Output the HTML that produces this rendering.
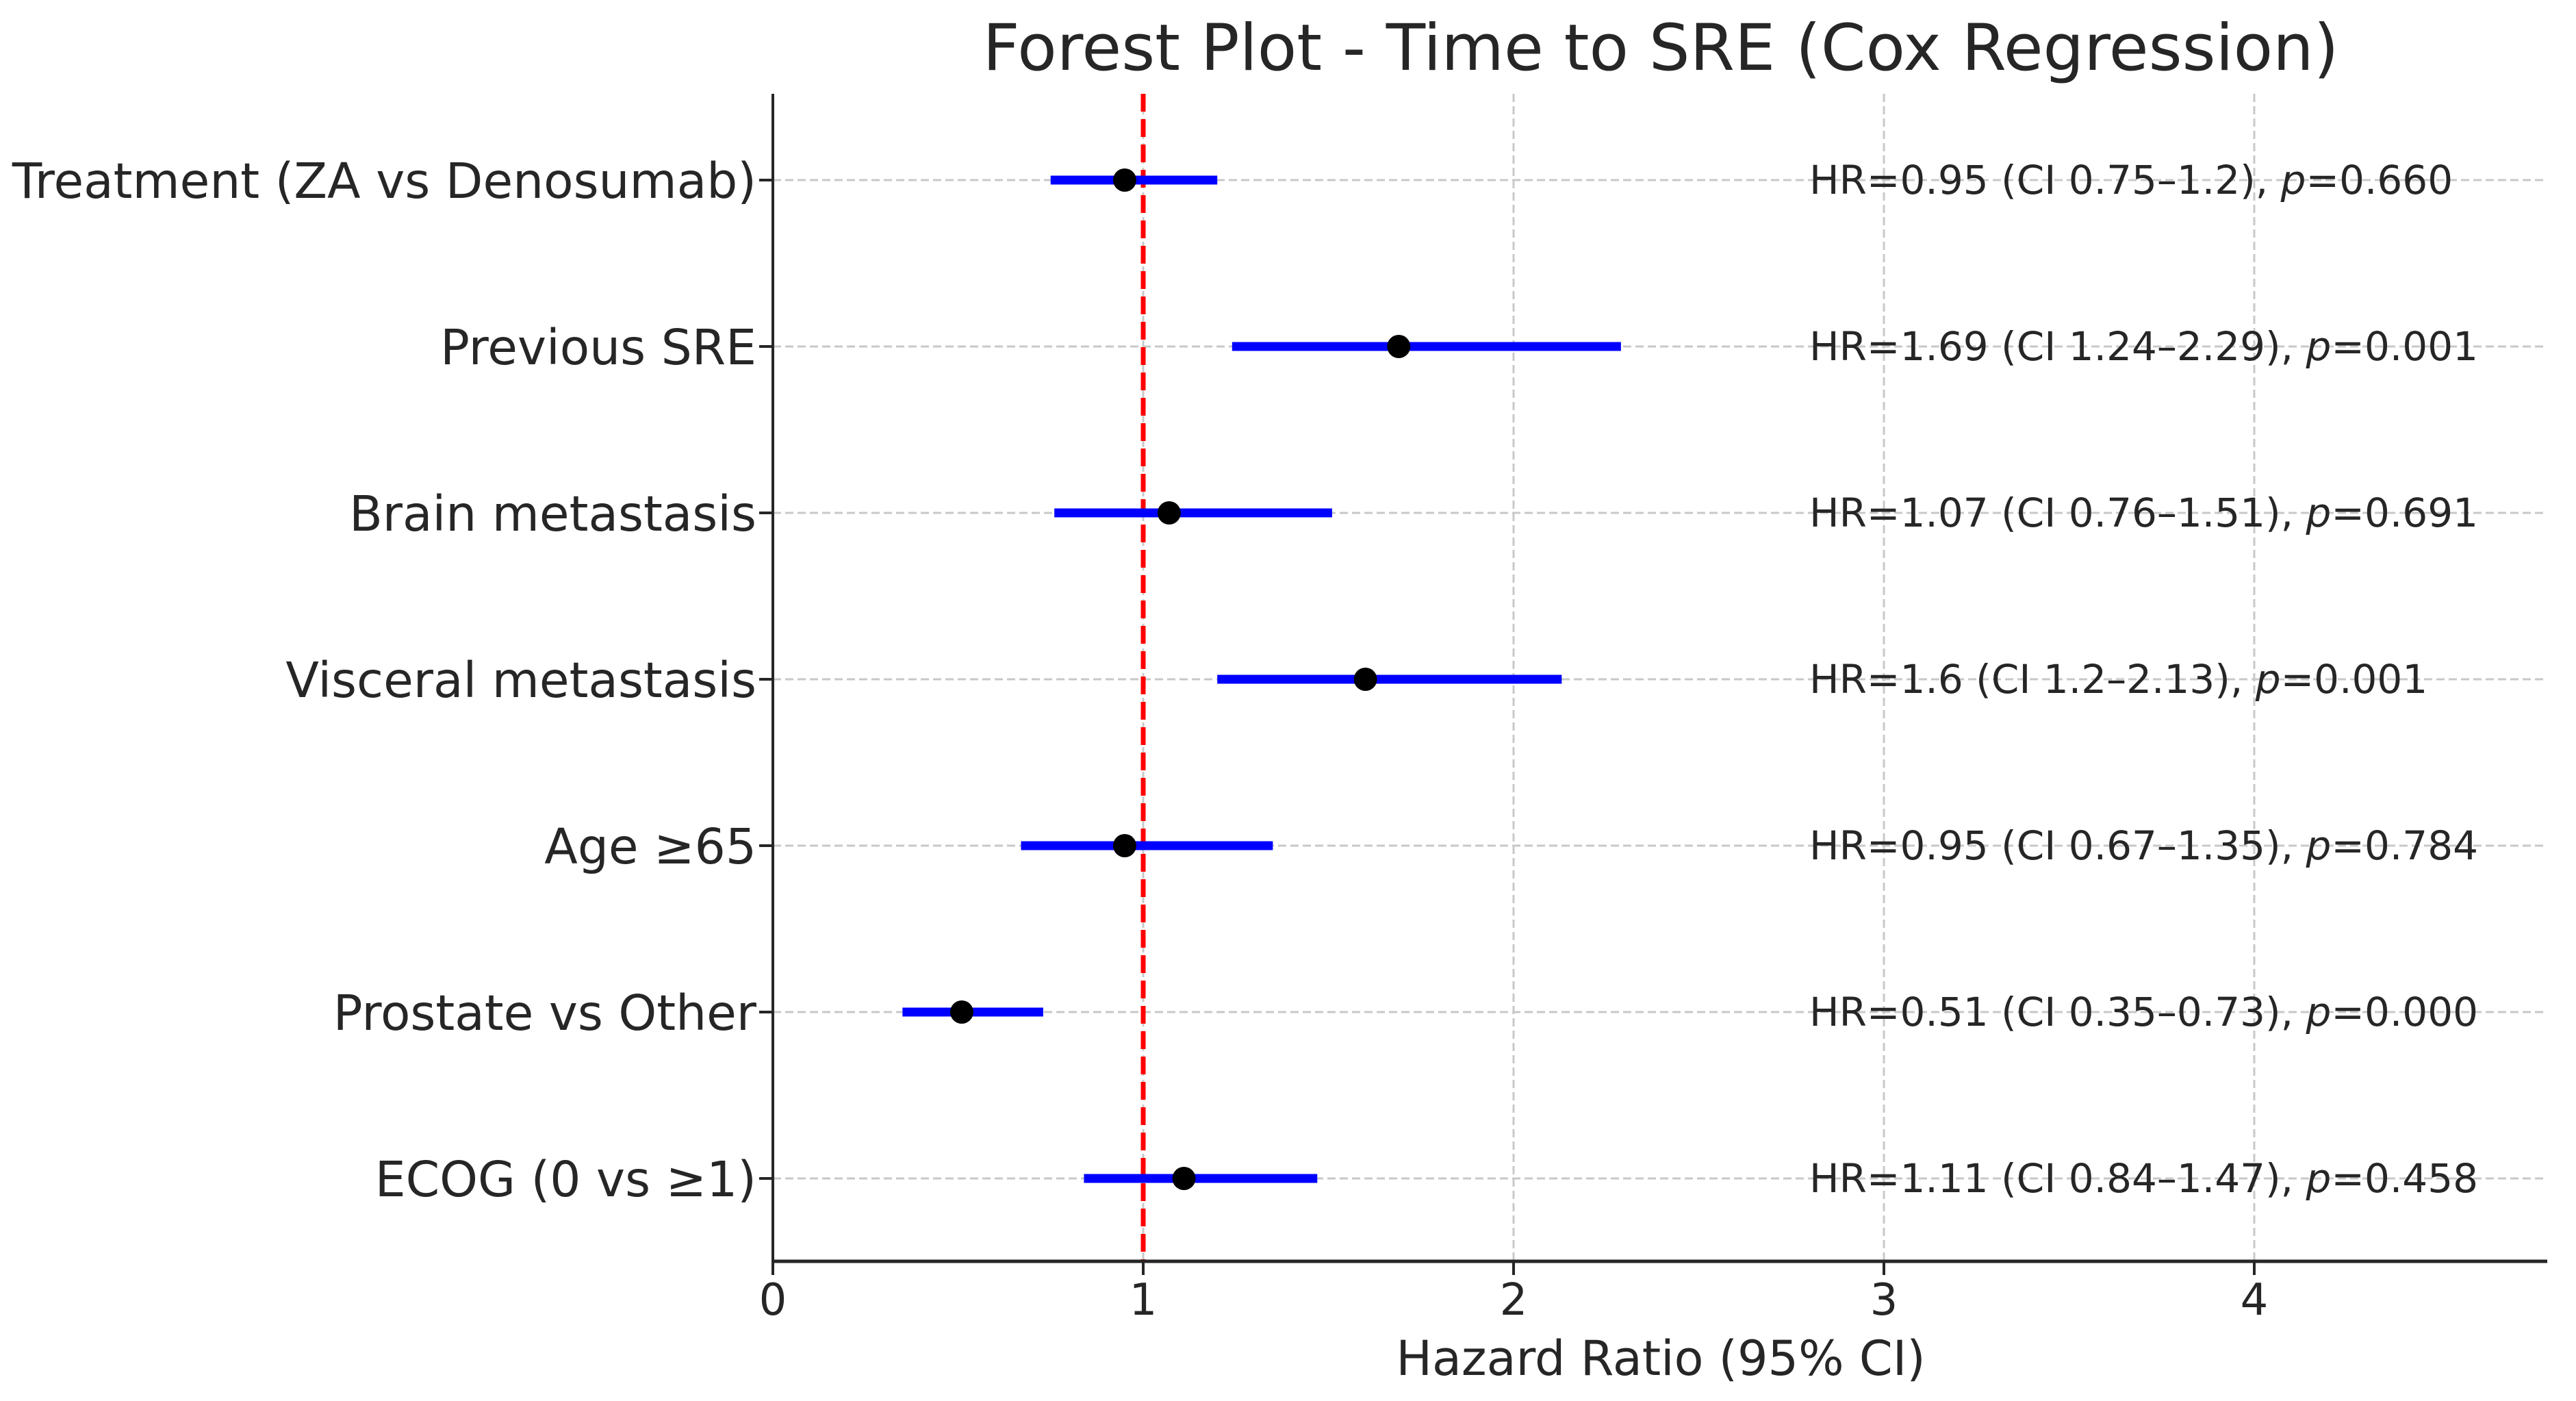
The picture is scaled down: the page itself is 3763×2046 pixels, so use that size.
<!DOCTYPE html>
<html><head><meta charset="utf-8"><style>
html,body{margin:0;padding:0;background:#fff;}
svg{display:block;font-family:"DejaVu Sans","Liberation Sans",sans-serif;}
</style></head><body>
<svg id="chart" width="3763" height="2046" viewBox="0 0 3763 2046" xmlns="http://www.w3.org/2000/svg">
<rect width="3763" height="2046" fill="#fff"/>
<text x="2426" y="102" font-size="94" text-anchor="middle" fill="#262626">Forest Plot - Time to SRE (Cox Regression)</text>
<g id="grid"></g><g id="marks"></g><g id="axes"></g>
<text x="2426" y="2008" font-size="70" text-anchor="middle" fill="#262626">Hazard Ratio (95% CI)</text>
</svg>
<script>
const labels=["Treatment (ZA vs Denosumab)","Previous SRE","Brain metastasis","Visceral metastasis","Age ≥65","Prostate vs Other","ECOG (0 vs ≥1)"];
const hr=[0.95,1.69,1.07,1.6,0.95,0.51,1.11];
const lo=[0.75,1.24,0.76,1.2,0.67,0.35,0.84];
const hi=[1.2,2.29,1.51,2.13,1.35,0.73,1.47];
const pvals=["0.660","0.001","0.691","0.001","0.784","0.000","0.458"];
const xticks=[0,1,2,3,4];
const NS="http://www.w3.org/2000/svg";
const X0=1129,PXU=541,Y0=263,DY=243,TOP=137,BOT=1842,RIGHT=3721;
const xs=v=>X0+v*PXU, ys=i=>Y0+i*DY;
function mk(tag,attrs,parent){const e=document.createElementNS(NS,tag);for(const k in attrs)e.setAttribute(k,attrs[k]);parent.appendChild(e);return e;}
const grid=document.getElementById('grid'),marks=document.getElementById('marks'),axes=document.getElementById('axes');
xticks.forEach(t=>{
 const g=mk('line',{x1:xs(t),x2:xs(t),y1:TOP,y2:BOT,stroke:'#c8c8c8','stroke-width':3,'stroke-dasharray':'12 6'},grid);
 
 
 const tk=mk('line',{x1:xs(t),x2:xs(t),y1:BOT,y2:BOT+20,stroke:'#262626','stroke-width':4},axes);
 
 
 const tl=mk('text',{x:xs(t),y:BOT+78,'font-size':64,'text-anchor':'middle',fill:'#262626'},axes);
 tl.textContent=t;
 
 
});
labels.forEach((lab,i)=>{
 const y=ys(i);
 const g=mk('line',{x1:X0,x2:RIGHT,y1:y,y2:y,stroke:'#c8c8c8','stroke-width':3,'stroke-dasharray':'12 6'},grid);
 
 
 const tk=mk('line',{x1:X0-20,x2:X0,y1:y,y2:y,stroke:'#262626','stroke-width':4},axes);
 
 
 const tl=mk('text',{x:X0-24,y:y+26,'font-size':71,'text-anchor':'end',fill:'#262626'},axes);
 tl.textContent=lab;
 
 
});
const ref=mk('line',{x1:xs(1),x2:xs(1),y1:TOP,y2:BOT,stroke:'#ff0000','stroke-width':7,'stroke-dasharray':'26 11'},marks);


labels.forEach((lab,i)=>{
 const y=ys(i);
 const ci=mk('line',{x1:xs(lo[i]),x2:xs(hi[i]),y1:y,y2:y,stroke:'#0000ff','stroke-width':13},marks);
 
 
 const pt=mk('circle',{cx:xs(hr[i]),cy:y,r:17,fill:'#000'},marks);
 
 
 const t=mk('text',{x:2643,y:y+20,'font-size':58,fill:'#262626'},marks);
 t.innerHTML='HR='+hr[i]+' (CI '+lo[i]+'–'+hi[i]+'), <tspan font-style="italic">p</tspan>='+pvals[i];
 
 
});
const ya=mk('line',{x1:X0,x2:X0,y1:TOP,y2:BOT,stroke:'#262626','stroke-width':4},axes);


const xa=mk('line',{x1:X0-2,x2:RIGHT,y1:BOT,y2:BOT,stroke:'#262626','stroke-width':5},axes);


</script>
</body></html>
